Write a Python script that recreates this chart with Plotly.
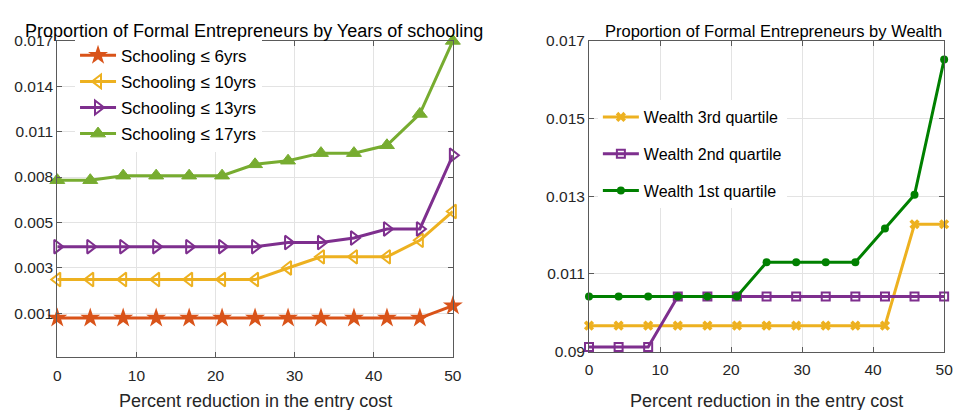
import numpy as np
import plotly.graph_objects as go

# ---------------- data ----------------
x_cut = [0, 4.17, 8.33, 12.5, 16.67, 20.83, 25, 29.17, 33.33, 37.5, 41.67, 45.83, 50]

# Left panel (values read against the printed tick labels)
sch6 = [0.00078] * 12 + [0.00133]
sch10 = [0.00248] * 7 + [0.00299, 0.00348, 0.00348, 0.00348, 0.00421, 0.00572]
sch13 = [0.00393] * 7 + [0.00411, 0.00411, 0.00431, 0.00471, 0.00471, 0.00944]
sch17 = [0.00779, 0.00779, 0.00809, 0.00809, 0.00809, 0.00809, 0.00884, 0.00908,
         0.00958, 0.00958, 0.0101, 0.01217, 0.017]
left_tick_labels = ["0.001", "0.003", "0.005", "0.008", "0.011", "0.014", "0.017"]

# Right panel
w3 = [0.00967] * 11 + [0.01228, 0.01228]
w2 = [0.00912] * 3 + [0.01042] * 10
w1 = [0.01042] * 6 + [0.0113] * 4 + [0.01217, 0.01304, 0.01652]
right_tick_vals = [0.009, 0.011, 0.013, 0.015, 0.017]
right_tick_labels = ["0.09", "0.011", "0.013", "0.015", "0.017"]

# ---------------- helpers ----------------
lab_vals = np.array([float(s) for s in left_tick_labels])
lab_pos = np.arange(len(lab_vals), dtype=float)


def to_pos(vals):
    """Map values read on the (unevenly labelled) left axis to its evenly spaced tick positions."""
    out = []
    for v in vals:
        if v < lab_vals[0]:
            out.append((v - lab_vals[0]) / (lab_vals[1] - lab_vals[0]))
        else:
            out.append(float(np.interp(v, lab_vals, lab_pos)))
    return out


FONT = "Liberation Sans, Arial, Helvetica, sans-serif"
ORANGE = "#D95319"
YELLOW = "#EDB120"
PURPLE = "#7E2F8E"
LGREEN = "#77AC30"
DGREEN = "#008000"

fig = go.Figure()

left_series = [
    ("Schooling ≤ 6yrs", sch6, ORANGE, "star", 15, 0),
    ("Schooling ≤ 10yrs", sch10, YELLOW, "triangle-left-open", 12, 2),
    ("Schooling ≤ 13yrs", sch13, PURPLE, "triangle-right-open", 12, 2),
    ("Schooling ≤ 17yrs", sch17, LGREEN, "triangle-up", 13, 1),
]
for i, (name, vals, col, sym, sz, lw) in enumerate(left_series):
    fig.add_trace(go.Scatter(
        x=x_cut, y=to_pos(vals), name=name, mode="lines+markers",
        line=dict(color=col, width=3),
        marker=dict(symbol=sym, size=sz, color=col, line=dict(color=col, width=lw)),
        xaxis="x", yaxis="y", legend="legend", legendgroup=f"l{i}",
        cliponaxis=False,
    ))

right_series = [
    ("Wealth 3rd quartile", w3, YELLOW, "x", 9, 0),
    ("Wealth 2nd quartile", w2, PURPLE, "square-open", 8, 2),
    ("Wealth 1st quartile", w1, DGREEN, "circle", 8, 0),
]
for i, (name, vals, col, sym, sz, lw) in enumerate(right_series):
    fig.add_trace(go.Scatter(
        x=x_cut, y=vals, name=name, mode="lines+markers",
        line=dict(color=col, width=3),
        marker=dict(symbol=sym, size=sz, color=col, line=dict(color=col, width=lw)),
        xaxis="x2", yaxis="y2", legend="legend2", legendgroup=f"r{i}",
        cliponaxis=False,
    ))

W, H = 963, 410
axis_common = dict(
    showline=True, linecolor="#5a5a5a", linewidth=1, mirror="ticks",
    ticks="inside", ticklen=5, tickcolor="#5a5a5a",
    showgrid=True, gridcolor="#e3e3e3", gridwidth=1, zeroline=False,
    tickfont=dict(family=FONT, size=15.5, color="#262626"),
)

fig.update_layout(
    width=W, height=H, margin=dict(l=0, r=0, t=0, b=0),
    paper_bgcolor="white", plot_bgcolor="white",
    xaxis=dict(domain=[54 / W, 455 / W], range=[0, 50], tickvals=[0, 10, 20, 30, 40, 50],
               anchor="y", ticklabelstandoff=4, **axis_common),
    yaxis=dict(domain=[(H - 363) / H, (H - 33.3) / H], range=[-0.966, 6],
               tickvals=list(lab_pos), ticktext=left_tick_labels, anchor="x",
               ticklabelstandoff=0, **axis_common),
    xaxis2=dict(domain=[593 / W, 953 / W], range=[0, 50], tickvals=[0, 10, 20, 30, 40, 50],
                anchor="y2", ticklabelstandoff=4, **axis_common),
    yaxis2=dict(domain=[(H - 357.5) / H, (H - 33.3) / H], range=[0.009, 0.017],
                tickvals=right_tick_vals, ticktext=right_tick_labels, anchor="x2",
                ticklabelstandoff=0, **axis_common),
    legend=dict(x=72 / W, y=(H - 30) / H, xanchor="left", yanchor="top",
                bgcolor="white", borderwidth=0, tracegroupgap=1, itemwidth=36,
                font=dict(family=FONT, size=17, color="black")),
    legend2=dict(x=602 / W, y=(H - 95) / H, xanchor="left", yanchor="top",
                 bgcolor="white", borderwidth=0, tracegroupgap=13, itemwidth=36,
                 font=dict(family=FONT, size=16, color="black")),
    annotations=[
        dict(text="Proportion of Formal Entrepreneurs by Years of schooling", x=253 / W, y=(H - 23) / H,
             xref="paper", yref="paper", showarrow=False, xanchor="center", yanchor="middle",
             font=dict(family=FONT, size=18, color="black")),
        dict(text="Proportion of Formal Entrepreneurs by Wealth", x=780 / W, y=(H - 23) / H,
             xref="paper", yref="paper", showarrow=False, xanchor="center", yanchor="middle",
             font=dict(family=FONT, size=16.5, color="black")),
        dict(text="Percent reduction in the entry cost", x=255 / W, y=(H - 409) / H,
             xref="paper", yref="paper", showarrow=False, xanchor="center", yanchor="middle",
             font=dict(family=FONT, size=18, color="#262626")),
        dict(text="Percent reduction in the entry cost", x=773 / W, y=(H - 409) / H,
             xref="paper", yref="paper", showarrow=False, xanchor="center", yanchor="middle",
             font=dict(family=FONT, size=18, color="#262626")),
    ],
)

fig.write_html("out.html")
